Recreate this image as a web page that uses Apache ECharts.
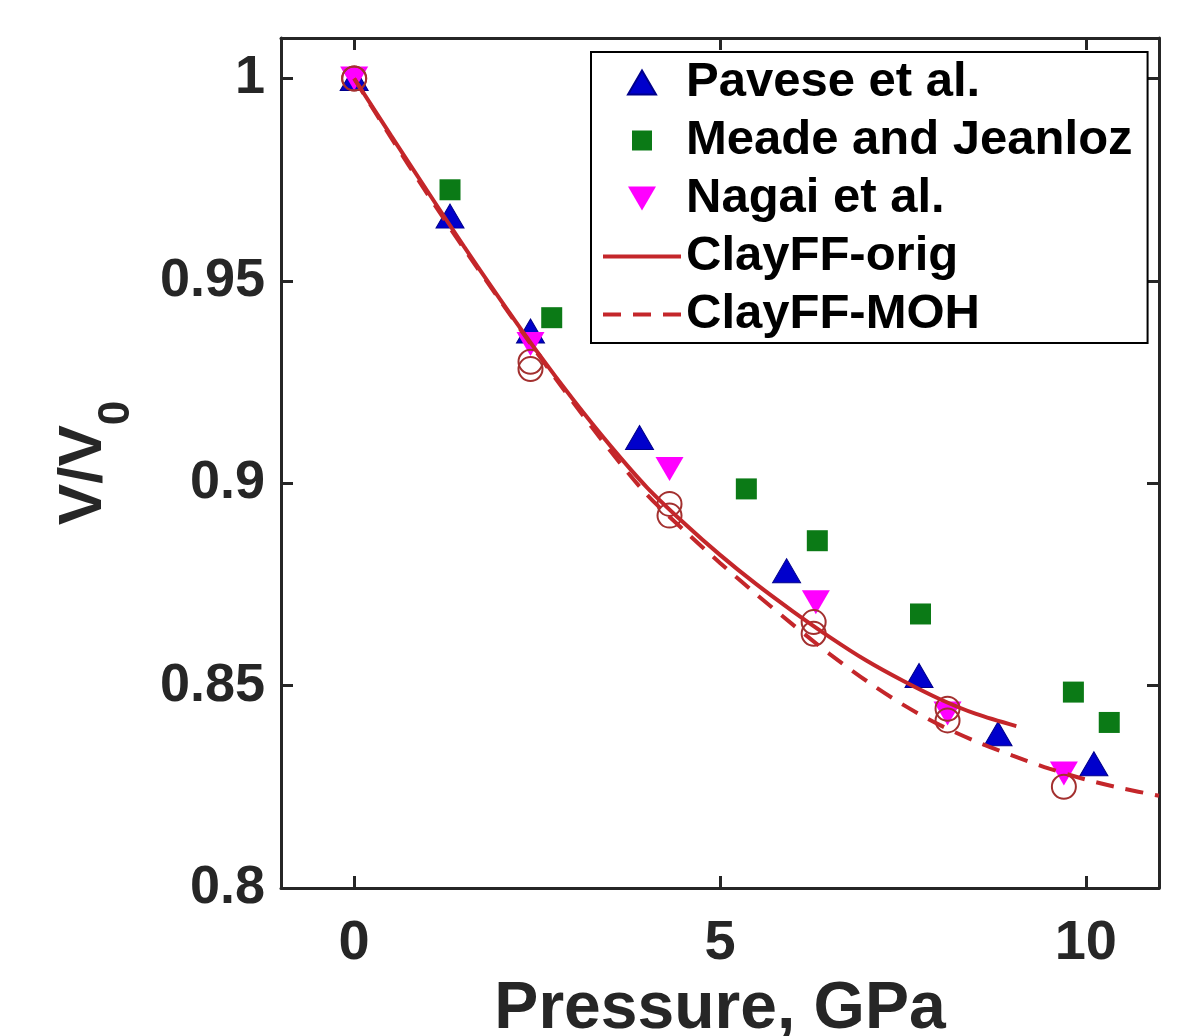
<!DOCTYPE html>
<html>
<head>
<meta charset="utf-8">
<script src="https://cdn.jsdelivr.net/npm/echarts@6/dist/echarts.min.js"></script>
<style>
html, body { margin: 0; padding: 0; background: #fff; }
#chart { width: 1203px; height: 1036px; }
</style>
</head>
<body>
<div id="chart"></div>
<script>
// tick values
var pressureTicks = [0, 5, 10];
var ratioTicks = [0.8, 0.85, 0.9, 0.95, 1];

// experiments
var paveseP = [0, 1.31, 2.41, 3.9, 5.91, 7.72, 8.8, 10.11];
var paveseV = [1.0, 0.966, 0.9376, 0.9113, 0.8784, 0.8525, 0.8381, 0.8307];
var meadeP = [1.31, 2.70, 5.36, 6.33, 7.74, 9.83, 10.32];
var meadeV = [0.9725, 0.9409, 0.8986, 0.8858, 0.8677, 0.8484, 0.8409];
var nagaiP = [0, 2.41, 4.31, 6.31, 8.11, 9.70];
var nagaiV = [1.0, 0.9344, 0.9035, 0.8706, 0.8431, 0.8283];

// simulation points (circles)
var simOrigP = [0, 2.41, 4.31, 6.28, 8.11];
var simOrigV = [1.0, 0.9300, 0.8949, 0.8657, 0.8443];
var simMohP = [0, 2.41, 4.31, 6.28, 8.11, 9.70];
var simMohV = [1.0, 0.9282, 0.8920, 0.8628, 0.8414, 0.8250];

// fitted curves
var origP = [0, 0.5, 1, 1.5, 2, 2.5, 3, 3.5, 4, 4.5, 5, 5.5, 6, 6.5, 7, 7.5, 8, 8.5, 9.05];
var origV = [1.0, 0.986, 0.9722, 0.9585, 0.9453, 0.9325, 0.9205, 0.9093, 0.899, 0.8903, 0.8823, 0.875, 0.8683, 0.862, 0.8562, 0.8512, 0.8467, 0.843, 0.8400];
var mohP = [0, 0.5, 1, 1.5, 2, 2.5, 3, 3.5, 4, 4.5, 5, 5.5, 6, 6.5, 7, 7.5, 8, 8.5, 9, 9.5, 10, 10.5, 11];
var mohV = [1.0, 0.9855, 0.9715, 0.958, 0.945, 0.9322, 0.9198, 0.9080, 0.8972, 0.8885, 0.8803, 0.8725, 0.8650, 0.8578, 0.8512, 0.8453, 0.8403, 0.8362, 0.8327, 0.8295, 0.8268, 0.8246, 0.8228];

function pairs(xs, ys) {
    var out = [];
    for (var i = 0; i < xs.length; i++) out.push([xs[i], ys[i]]);
    return out;
}

var FONT = '"Liberation Sans", Arial, Helvetica, sans-serif';
var AX = '#262626';
var RED = '#c4262a';
var CIRC = '#a3302f';
var downTri = 'path://M0,0L28,0L14,24Z';
// legend icons: extra move-to points keep the box 78x24 so the mark is not stretched
var legUp = 'path://M0,0M78,24M25,24L53,24L39,0Z';
var legSq = 'path://M0,0M78,24M29,2L49,2L49,22L29,22Z';
var legDown = 'path://M0,0M78,24M25,0L53,0L39,24Z';
var noMark = { color: 'rgba(0,0,0,0)', borderColor: 'rgba(0,0,0,0)', borderWidth: 0 };

function boxAxis(extra) {
    var a = {
        axisLine: { show: true, onZero: false, lineStyle: { color: AX, width: 3 } },
        axisTick: { show: true, inside: true, length: 12, lineStyle: { color: AX, width: 3 } },
        axisLabel: { show: false },
        splitLine: { show: false }
    };
    for (var k in extra) a[k] = extra[k];
    return a;
}

var xBottom = boxAxis({
    type: 'value', position: 'bottom', min: -1, max: 11,
    name: 'Pressure, GPa', nameLocation: 'middle', nameGap: 72,
    nameTextStyle: { fontFamily: FONT, fontWeight: 'bold', fontSize: 66, color: AX }
});
xBottom.axisTick.customValues = pressureTicks;
xBottom.axisLabel = { show: true, customValues: pressureTicks, margin: 28, fontFamily: FONT, fontWeight: 'bold', fontSize: 56, color: AX };

var xTop = boxAxis({ type: 'value', position: 'top', min: -1, max: 11 });
xTop.axisTick.customValues = pressureTicks;

var yLeft = boxAxis({
    type: 'value', position: 'left', min: 0.8, max: 1.01,
    name: '{v|V/V}{s|0}', nameLocation: 'middle', nameGap: 142, nameRotate: 90,
    nameTextStyle: {
        fontFamily: FONT, fontWeight: 'bold', color: AX,
        rich: {
            v: { fontFamily: FONT, fontWeight: 'bold', fontSize: 62, color: AX },
            s: { fontFamily: FONT, fontWeight: 'bold', fontSize: 44, color: AX, verticalAlign: 'bottom', padding: [66, 0, 0, 0] }
        }
    }
});
yLeft.axisTick.customValues = ratioTicks;
yLeft.axisLabel = {
    show: true, customValues: ratioTicks, margin: 16, fontFamily: FONT, fontWeight: 'bold', fontSize: 54, color: AX,
    formatter: function (v) { return String(Math.round(v * 100) / 100); }
};

var yRight = boxAxis({ type: 'value', position: 'right', min: 0.8, max: 1.01 });
yRight.axisTick.customValues = ratioTicks;

var option = {
    animation: false,
    backgroundColor: '#fff',
    grid: { left: 281, right: 44, top: 38, bottom: 148, containLabel: false, outerBoundsMode: 'none' },
    xAxis: [xBottom, xTop],
    yAxis: [yLeft, yRight],
    legend: {
        data: [
            { name: 'Pavese et al.', icon: legUp },
            { name: 'Meade and Jeanloz', icon: legSq },
            { name: 'Nagai et al.', icon: legDown },
            { name: 'ClayFF-orig', itemStyle: noMark },
            { name: 'ClayFF-MOH', itemStyle: noMark }
        ],
        orient: 'vertical', left: 591, top: 52,
        padding: [6, 15, 4, 10],
        itemWidth: 78, itemHeight: 24, itemGap: 9,
        backgroundColor: '#fff', borderColor: '#000', borderWidth: 2,
        selectedMode: false,
        lineStyle: { width: 4 },
        textStyle: { fontFamily: FONT, fontWeight: 'bold', fontSize: 49, color: '#000' }
    },
    series: [
        {
            name: 'Pavese et al.', type: 'scatter', data: pairs(paveseP, paveseV),
            symbol: 'triangle', symbolSize: [28, 24],
            itemStyle: { color: '#0000cc', borderColor: '#00008b', borderWidth: 1, opacity: 1 }
        },
        {
            name: 'Meade and Jeanloz', type: 'scatter', data: pairs(meadeP, meadeV),
            symbol: 'rect', symbolSize: 21,
            itemStyle: { color: '#0b7a16', opacity: 1 }
        },
        {
            name: 'Nagai et al.', type: 'scatter', data: pairs(nagaiP, nagaiV),
            symbol: downTri, symbolSize: [28, 24],
            itemStyle: { color: '#ff00ff', opacity: 1 }
        },
        {
            name: 'ClayFF-orig', type: 'line', data: pairs(origP, origV),
            smooth: 0.3, showSymbol: false, symbol: 'none',
            itemStyle: { color: RED },
            lineStyle: { color: RED, width: 4 }
        },
        {
            name: 'ClayFF-MOH', type: 'line', data: pairs(mohP, mohV),
            smooth: 0.3, showSymbol: false, symbol: 'none',
            itemStyle: { color: RED },
            lineStyle: { color: RED, width: 4, type: [18, 12] }
        },
        {
            name: 'orig points', type: 'scatter', data: pairs(simOrigP, simOrigV),
            symbol: 'circle', symbolSize: 24,
            itemStyle: { color: 'rgba(0,0,0,0)', borderColor: CIRC, borderWidth: 2, opacity: 1 }
        },
        {
            name: 'MOH points', type: 'scatter', data: pairs(simMohP, simMohV),
            symbol: 'circle', symbolSize: 24,
            itemStyle: { color: 'rgba(0,0,0,0)', borderColor: CIRC, borderWidth: 2, opacity: 1 }
        }
    ]
};

var chart = echarts.init(document.getElementById('chart'));
chart.setOption(option);
</script>
</body>
</html>
